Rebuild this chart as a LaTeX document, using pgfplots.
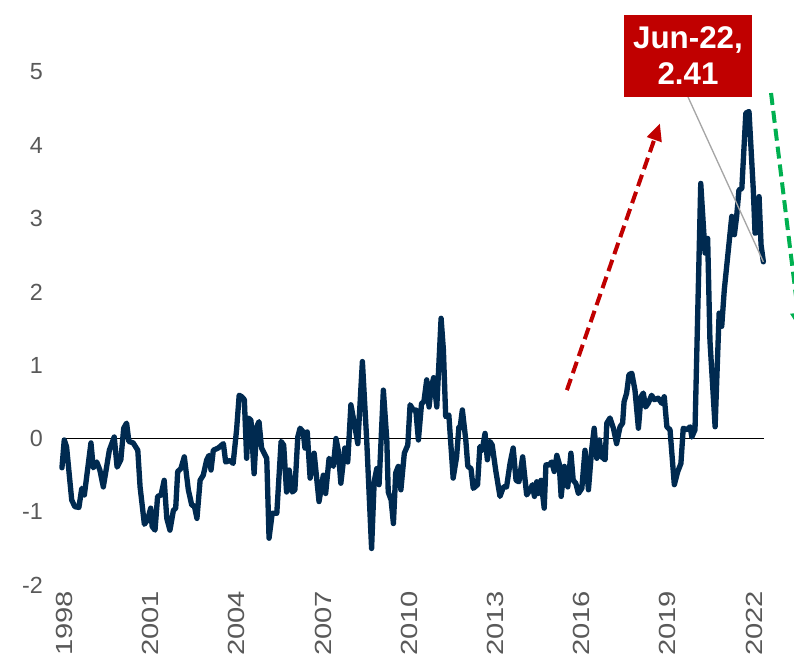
\documentclass[border=0pt]{standalone}
\usepackage{fontspec}
\setmainfont{Liberation Sans}
\usepackage{pgfplots}
\pgfplotsset{compat=1.18}
\usetikzlibrary{arrows.meta}

\definecolor{navy}{HTML}{002A50}
\definecolor{boxred}{HTML}{C00000}
\definecolor{grn}{HTML}{00B050}
\definecolor{lblgray}{HTML}{595959}
\definecolor{leader}{HTML}{A6A6A6}

\begin{document}
\begin{tikzpicture}
\begin{axis}[
  scale only axis,
  width=538.5pt, height=439.8pt,
  xmin=1997.5, xmax=2022.5,
  ymin=-2, ymax=6,
  clip=false,
  axis line style={draw=none},
  tick style={draw=none},
  major tick length=0pt,
  xtick={1998,2001,...,2022},
  ytick={-2,-1,...,5},
  /pgf/number format/assume math mode=true,
  /pgf/number format/1000 sep={},
  tick label style={font=\fontsize{17.5}{21}\selectfont, text=lblgray},
  xticklabel style={rotate=90, xscale=1.25, anchor=east, yshift=-2pt},
  yticklabel style={anchor=east, xshift=0pt},
]
% zero line
\addplot[black, line width=1.3pt, forget plot] coordinates {(1998,0) (2022.44,0)};

% monthly series
\addplot[navy, line width=4pt, line join=round, line cap=round] coordinates {
(1998.00,-0.40) (1998.08,-0.02) (1998.16,-0.11) (1998.34,-0.84) (1998.45,-0.93)
(1998.59,-0.94) (1998.69,-0.68) (1998.78,-0.77) (1999.01,-0.06) (1999.09,-0.40)
(1999.21,-0.32) (1999.32,-0.43) (1999.44,-0.66) (1999.65,-0.16) (1999.82,0.02)
(1999.92,-0.39) (2000.05,-0.29) (2000.15,0.14) (2000.25,0.21) (2000.33,-0.04)
(2000.48,-0.06) (2000.64,-0.16) (2000.72,-0.66) (2000.87,-1.17) (2000.98,-1.11)
(2001.09,-0.95) (2001.14,-1.20) (2001.24,-1.25) (2001.33,-0.79) (2001.45,-0.77)
(2001.56,-0.57) (2001.65,-1.09) (2001.76,-1.25) (2001.88,-0.98) (2001.96,-0.95)
(2002.03,-0.45) (2002.14,-0.41) (2002.26,-0.25) (2002.40,-0.70) (2002.52,-0.91)
(2002.61,-0.92) (2002.70,-1.09) (2002.81,-0.57) (2002.92,-0.50) (2003.04,-0.29)
(2003.12,-0.23) (2003.19,-0.43) (2003.27,-0.16) (2003.44,-0.13) (2003.62,-0.07)
(2003.70,-0.32) (2003.85,-0.30) (2003.96,-0.34) (2004.08,0.12) (2004.17,0.59)
(2004.26,0.57) (2004.35,0.53) (2004.43,-0.27) (2004.49,0.28) (2004.58,0.25)
(2004.69,-0.48) (2004.78,0.16) (2004.86,0.23) (2004.95,-0.13) (2005.13,-0.27)
(2005.21,-1.36) (2005.32,-1.02) (2005.48,-1.02) (2005.63,-0.04) (2005.72,-0.09)
(2005.82,-0.73) (2005.91,-0.43) (2006.02,-0.73) (2006.11,-0.70) (2006.21,0.02)
(2006.29,0.14) (2006.40,0.09) (2006.46,-0.13) (2006.54,0.09) (2006.64,-0.54)
(2006.78,-0.20) (2006.95,-0.86) (2007.10,-0.50) (2007.18,-0.75) (2007.30,-0.27)
(2007.45,-0.38) (2007.54,0.00) (2007.62,-0.16) (2007.71,-0.61) (2007.85,-0.13)
(2007.95,-0.32) (2008.06,0.46) (2008.20,0.16) (2008.30,-0.07) (2008.46,1.05)
(2008.61,-0.02) (2008.78,-1.50) (2008.87,-0.59) (2008.96,-0.41) (2009.04,-0.63)
(2009.19,0.66) (2009.31,-0.02) (2009.36,-0.73) (2009.46,-0.84) (2009.54,-1.16)
(2009.62,-0.47) (2009.71,-0.38) (2009.80,-0.70) (2009.92,-0.20) (2010.04,-0.09)
(2010.12,0.46) (2010.23,0.39) (2010.32,0.39) (2010.41,-0.02) (2010.52,0.48)
(2010.60,0.50) (2010.70,0.80) (2010.78,0.43) (2010.85,0.68) (2010.94,0.83)
(2011.05,0.43) (2011.20,1.64) (2011.28,1.21) (2011.36,0.30) (2011.47,0.32)
(2011.62,-0.54) (2011.74,-0.25) (2011.82,0.16) (2011.86,0.14) (2011.94,0.39)
(2012.06,-0.02) (2012.13,-0.38) (2012.24,-0.41) (2012.32,-0.68) (2012.47,-0.63)
(2012.55,-0.11) (2012.63,-0.16) (2012.73,0.07) (2012.81,-0.29) (2012.90,-0.04)
(2012.98,-0.09) (2013.10,-0.43) (2013.25,-0.79) (2013.37,-0.66) (2013.48,-0.66)
(2013.60,-0.34) (2013.71,-0.13) (2013.81,-0.57) (2013.91,-0.59) (2014.04,-0.25)
(2014.18,-0.77) (2014.30,-0.70) (2014.38,-0.63) (2014.45,-0.79) (2014.53,-0.59)
(2014.58,-0.75) (2014.68,-0.57) (2014.79,-0.95) (2014.85,-0.36) (2014.96,-0.36)
(2015.05,-0.32) (2015.14,-0.45) (2015.23,-0.23) (2015.31,-0.34) (2015.38,-0.79)
(2015.49,-0.38) (2015.61,-0.66) (2015.72,-0.20) (2015.80,-0.57) (2015.89,-0.61)
(2015.98,-0.75) (2016.10,-0.68) (2016.21,-0.16) (2016.33,-0.70) (2016.44,-0.16)
(2016.53,0.14) (2016.62,-0.27) (2016.71,-0.02) (2016.79,-0.25) (2016.91,-0.29)
(2016.97,0.21) (2017.08,0.28) (2017.20,0.14) (2017.31,-0.07) (2017.43,0.16)
(2017.52,0.21) (2017.57,0.50) (2017.66,0.62) (2017.74,0.87) (2017.84,0.89)
(2017.95,0.66) (2018.07,0.14) (2018.16,0.57) (2018.24,0.62) (2018.32,0.43)
(2018.41,0.48) (2018.53,0.59) (2018.62,0.53) (2018.76,0.55) (2018.88,0.48)
(2018.97,0.57) (2019.06,0.16) (2019.17,0.12) (2019.32,-0.63) (2019.44,-0.45)
(2019.55,-0.34) (2019.63,0.14) (2019.75,0.12) (2019.87,0.16) (2019.93,0.02)
(2020.04,0.12) (2020.24,3.48) (2020.39,2.53) (2020.48,2.73) (2020.56,1.34)
(2020.74,0.16) (2020.88,1.71) (2020.97,1.53) (2021.06,2.03) (2021.32,3.03)
(2021.41,2.78) (2021.49,3.03) (2021.57,3.39) (2021.67,3.41) (2021.81,4.44)
(2021.92,4.46) (2022.07,3.39) (2022.13,2.80) (2022.22,2.82) (2022.27,3.30)
(2022.34,2.64) (2022.42,2.41)
};

% callout
\draw[leader, line width=1pt] (axis cs:2019.797,4.659) -- (axis cs:2022.42,2.41);
\node[fill=boxred, text=white, align=center, minimum width=96pt, minimum height=61.5pt,
  inner sep=0pt, font=\fontsize{23.5}{27}\selectfont\bfseries]
  at (axis cs:2019.797,5.218) {Jun-22,\\2.41};

% trend arrows
\draw[boxred, line width=3pt, dash pattern=on 9pt off 4.5pt,
  -{Triangle[length=13pt,width=11pt]}]
  (axis cs:2015.58,0.66) -- (axis cs:2018.82,4.30);
\draw[grn, line width=3pt, dash pattern=on 9pt off 4.5pt,
  -{Triangle[length=13pt,width=11pt]}]
  (axis cs:2022.687,4.713) -- (axis cs:2023.70,1.48);

\coordinate (bbl) at (axis cs:1995.843,-3.035);
\coordinate (btr) at (axis cs:2023.487,5.982);
\end{axis}
\pgfresetboundingbox
\path[use as bounding box] (bbl) rectangle (btr);
\end{tikzpicture}
\end{document}
